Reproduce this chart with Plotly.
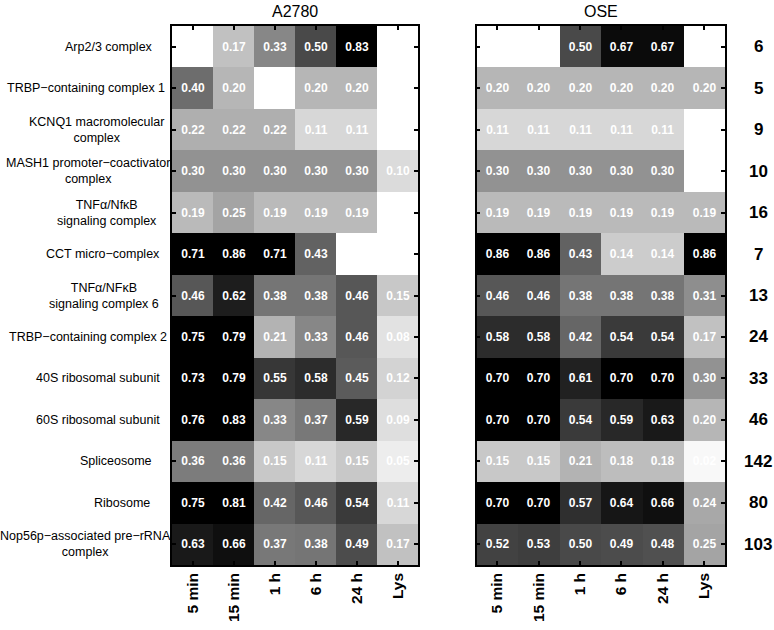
import plotly.graph_objects as go

columns = ["5 min", "15 min", "1 h", "6 h", "24 h", "Lys"]
complexes = [
    "Arp2/3 complex",
    "TRBP−containing complex 1",
    "KCNQ1 macromolecular<br>complex",
    "MASH1 promoter−coactivator<br>complex",
    "TNFα/NfκB<br>signaling complex",
    "CCT micro−complex",
    "TNFα/NFκB<br>signaling complex 6",
    "TRBP−containing complex 2",
    "40S ribosomal subunit",
    "60S ribosomal subunit",
    "Spliceosome",
    "Ribosome",
    "Nop56p−associated pre−rRNA<br>complex",
]
sizes = [6, 5, 9, 10, 16, 7, 13, 24, 33, 46, 142, 80, 103]

a2780 = [
    [None, 0.17, 0.33, 0.50, 0.83, None],
    [0.40, 0.20, None, 0.20, 0.20, None],
    [0.22, 0.22, 0.22, 0.11, 0.11, None],
    [0.30, 0.30, 0.30, 0.30, 0.30, 0.10],
    [0.19, 0.25, 0.19, 0.19, 0.19, None],
    [0.71, 0.86, 0.71, 0.43, None, None],
    [0.46, 0.62, 0.38, 0.38, 0.46, 0.15],
    [0.75, 0.79, 0.21, 0.33, 0.46, 0.08],
    [0.73, 0.79, 0.55, 0.58, 0.45, 0.12],
    [0.76, 0.83, 0.33, 0.37, 0.59, 0.09],
    [0.36, 0.36, 0.15, 0.11, 0.15, 0.05],
    [0.75, 0.81, 0.42, 0.46, 0.54, 0.11],
    [0.63, 0.66, 0.37, 0.38, 0.49, 0.17],
]
ose = [
    [None, None, 0.50, 0.67, 0.67, None],
    [0.20, 0.20, 0.20, 0.20, 0.20, 0.20],
    [0.11, 0.11, 0.11, 0.11, 0.11, None],
    [0.30, 0.30, 0.30, 0.30, 0.30, None],
    [0.19, 0.19, 0.19, 0.19, 0.19, 0.19],
    [0.86, 0.86, 0.43, 0.14, 0.14, 0.86],
    [0.46, 0.46, 0.38, 0.38, 0.38, 0.31],
    [0.58, 0.58, 0.42, 0.54, 0.54, 0.17],
    [0.70, 0.70, 0.61, 0.70, 0.70, 0.30],
    [0.70, 0.70, 0.54, 0.59, 0.63, 0.20],
    [0.15, 0.15, 0.21, 0.18, 0.18, 0.02],
    [0.70, 0.70, 0.57, 0.64, 0.66, 0.24],
    [0.52, 0.53, 0.50, 0.49, 0.48, 0.25],
]

# layout: horizontal centre (px) of each row label, as placed in the original
LABEL_CENTER_PX = [109, 86, 96, 87.5, 107, 103, 104, 88, 98, 98, 116, 122, 85]

FONT = "Liberation Sans, Arial, Helvetica, sans-serif"
W, H = 774, 630


def px(x):
    return x / W


def py(y):
    return 1 - y / H


def txt(z):
    return [["" if v is None else f"{v:.2f}" for v in row] for row in z]


xs = list(range(len(columns)))
ys = list(range(len(complexes)))

fig = go.Figure()
for z, xa, ya in [(a2780, "x", "y"), (ose, "x2", "y2")]:
    fig.add_trace(go.Heatmap(
        z=z, x=xs, y=ys, text=txt(z), texttemplate="%{text}",
        textfont=dict(family=FONT, size=12, color="white", weight="bold"),
        colorscale=[[0, "white"], [1, "black"]], zmin=0, zmax=0.7,
        showscale=False, xaxis=xa, yaxis=ya, hoverinfo="skip",
    ))

ydom = [py(565), py(26)]
xdomA = [px(172), px(418)]
xdomB = [px(476.5), px(725)]

xcommon = dict(
    tickvals=xs, ticktext=columns, tickangle=-90, range=[-0.5, 5.5],
    showline=True, linecolor="black", linewidth=1.5, mirror="ticks",
    ticks="inside", ticklen=4, tickwidth=1.5, tickcolor="black",
    tickfont=dict(family=FONT, size=15.5, color="black", weight="bold"),
    showgrid=False, zeroline=False, fixedrange=True,
)
ycommon = dict(
    tickvals=ys, showticklabels=False, range=[12.5, -0.5], domain=ydom,
    showline=True, linecolor="black", linewidth=1.5, mirror="ticks",
    ticks="inside", ticklen=4, tickwidth=1.5, tickcolor="black",
    showgrid=False, zeroline=False, fixedrange=True,
)

fig.update_layout(
    width=W, height=H,
    margin=dict(l=0, r=0, t=0, b=0),
    paper_bgcolor="white", plot_bgcolor="white",
    xaxis=dict(domain=xdomA, anchor="y", **xcommon),
    xaxis2=dict(domain=xdomB, anchor="y2", **xcommon),
    yaxis=dict(anchor="x", **ycommon),
    yaxis2=dict(anchor="x2", **ycommon),
    showlegend=False,
)

ann = []
for i, name in enumerate(complexes):
    ann.append(dict(
        x=px(LABEL_CENTER_PX[i]), xref="paper", xanchor="center", y=i, yref="y",
        yanchor="middle", text=name, showarrow=False, align="center",
        font=dict(family=FONT, size=12.5, color="black"),
    ))
    ann.append(dict(
        x=px(758), xref="paper", xanchor="center", y=i, yref="y",
        yanchor="middle", text=str(sizes[i]), showarrow=False,
        font=dict(family=FONT, size=17, color="black", weight="bold"),
    ))
ann.append(dict(x=(xdomA[0] + xdomA[1]) / 2, xref="paper", y=py(11), yref="paper",
                text="A2780", showarrow=False, xanchor="center", yanchor="middle",
                font=dict(family=FONT, size=16, color="black")))
ann.append(dict(x=(xdomB[0] + xdomB[1]) / 2, xref="paper", y=py(11), yref="paper",
                text="OSE", showarrow=False, xanchor="center", yanchor="middle",
                font=dict(family=FONT, size=16, color="black")))
fig.update_layout(annotations=ann)

fig.write_html(
    "out.html",
    config={"displayModeBar": False},
    post_script="document.body.style.margin='0';document.body.style.padding='0';",
)
